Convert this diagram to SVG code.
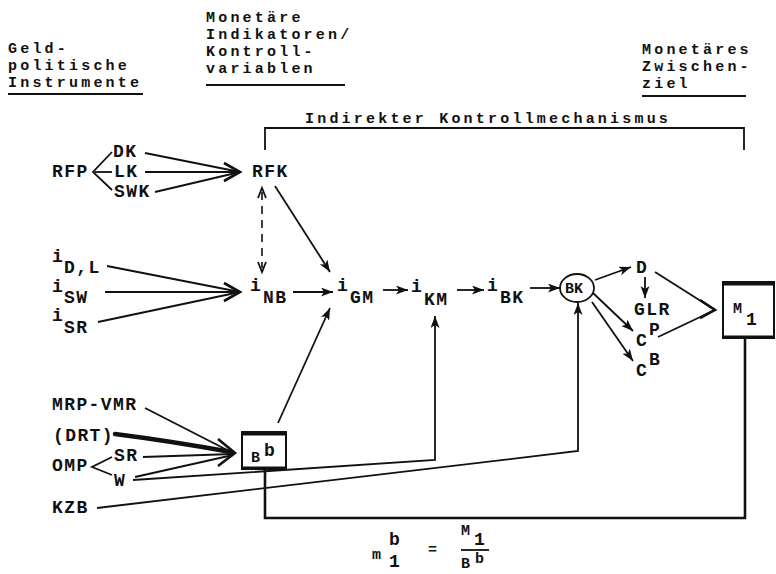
<svg xmlns="http://www.w3.org/2000/svg" width="776" height="574" viewBox="0 0 776 574">
<defs>
<style>
text{font-family:"Liberation Mono","DejaVu Sans Mono",monospace;font-size:18px;font-weight:bold;fill:#111;letter-spacing:1.4px}
.hdr{font-size:15px;letter-spacing:3.2px}
.sm{font-size:15px;letter-spacing:0}
.ln{stroke:#111;stroke-width:1.8;fill:none}
.thk{stroke:#111;stroke-width:2.6;fill:none}
.hd{stroke:#111;stroke-width:2.6;fill:none;stroke-linejoin:miter}
.ds{stroke:#111;stroke-width:1.6;fill:none;stroke-dasharray:8 6}
.box{stroke:#111;stroke-width:2;fill:#fff}
</style>
<marker id="ah" markerUnits="userSpaceOnUse" markerWidth="14" markerHeight="10" refX="12" refY="4.5" orient="auto">
<path d="M0,0 L12,4.5 L0,9 L3,4.5 z" fill="#111"/>
</marker>
</defs>
<rect width="776" height="574" fill="#fff"/>

<g id="headers">
<text class="hdr" x="8" y="53">Geld-</text>
<text class="hdr" x="8" y="70">politische</text>
<text class="hdr" x="8" y="87">Instrumente</text>
<line class="ln" x1="8" y1="94" x2="143" y2="94"/>
<text class="hdr" x="206" y="22">Monetäre</text>
<text class="hdr" x="206" y="39">Indikatoren/</text>
<text class="hdr" x="206" y="56">Kontroll-</text>
<text class="hdr" x="206" y="73">variablen</text>
<line class="ln" x1="206" y1="85" x2="345" y2="85"/>
<text class="hdr" x="642" y="54">Monetäres</text>
<text class="hdr" x="642" y="71">Zwischen-</text>
<text class="hdr" x="642" y="88">ziel</text>
<line class="ln" x1="642" y1="96" x2="746" y2="96"/>
<text class="hdr" x="305" y="123">Indirekter Kontrollmechanismus</text>
<polyline class="ln" points="265,150 265,128 744,128 744,150"/>
</g>

<g id="rfp"><text x="52" y="177">RFP</text></g>
<g id="dk"><text x="113" y="157">DK</text></g>
<g id="lk"><text x="114" y="177">LK</text></g>
<g id="swk"><text x="114" y="197">SWK</text></g>
<g id="rfk"><text x="252" y="177">RFK</text></g>
<g id="idl"><text x="52" y="262">i<tspan x="64" dy="11">D,L</tspan></text></g>
<g id="isw"><text x="52" y="292">i<tspan x="64" dy="11">SW</tspan></text></g>
<g id="isr"><text x="52" y="321">i<tspan x="64" dy="12">SR</tspan></text></g>
<g id="inb"><text x="250" y="291">i<tspan x="263" dy="12">NB</tspan></text></g>
<g id="igm"><text x="337" y="291">i<tspan x="350" dy="12">GM</tspan></text></g>
<g id="ikm"><text x="411" y="292">i<tspan x="424" dy="13">KM</tspan></text></g>
<g id="ibk"><text x="487" y="291">i<tspan x="500" dy="12">BK</tspan></text></g>
<g id="bk"><ellipse class="ln" cx="577" cy="288" rx="17" ry="14"/><text class="sm" x="565" y="293">BK</text></g>
<g id="d"><text x="636" y="273">D</text></g>
<g id="glr"><text x="634" y="315">GLR</text></g>
<g id="cp"><text x="636" y="346">C<tspan x="649" dy="-11">P</tspan></text></g>
<g id="cb"><text x="636" y="376">C<tspan x="649" dy="-11">B</tspan></text></g>
<g id="m1">
<rect class="box" x="723" y="282" width="51" height="56"/>
<line x1="722" y1="283.5" x2="775" y2="283.5" stroke="#111" stroke-width="4"/>
<line x1="722" y1="337" x2="775" y2="337" stroke="#111" stroke-width="3"/>
<text x="733" y="313"><tspan class="sm">M</tspan><tspan x="746" dy="12">1</tspan></text>
</g>
<g id="mrp"><text x="52" y="410">MRP-VMR</text></g>
<g id="drt"><text x="53" y="441">(DRT)</text></g>
<g id="omp"><text x="52" y="471">OMP</text></g>
<g id="sr"><text x="114" y="461">SR</text></g>
<g id="w"><text x="114" y="486">W</text></g>
<g id="kzb"><text x="52" y="513">KZB</text></g>
<g id="bb">
<rect class="box" x="242" y="432" width="44" height="37"/>
<line x1="241" y1="433.5" x2="287" y2="433.5" stroke="#111" stroke-width="4"/>
<line x1="241" y1="468" x2="287" y2="468" stroke="#111" stroke-width="3"/>
<text x="251" y="462"><tspan class="sm">B</tspan><tspan x="264" dy="-6">b</tspan></text>
</g>
<g id="formula">
<text x="372" y="559"><tspan class="sm">m</tspan><tspan x="389" y="545">b</tspan><tspan x="389" y="567">1</tspan><tspan class="sm" x="428" y="554">=</tspan><tspan class="sm" x="461" y="535">M</tspan><tspan x="474" y="545">1</tspan><tspan class="sm" x="461" y="568">B</tspan><tspan class="sm" x="475" y="563">b</tspan></text>
<line class="ln" x1="461" y1="550" x2="489" y2="550"/>
</g>

<g id="connectors">
<polyline class="ln" points="112,152 93,172 112,190"/>
<line class="ln" x1="95" y1="172" x2="112" y2="172"/>
<line class="ln" x1="145" y1="153" x2="240" y2="172"/>
<line class="ln" x1="145" y1="172" x2="240" y2="172"/>
<line class="ln" x1="155" y1="192" x2="240" y2="172"/>
<polyline class="hd" points="224,163 240,172 224,181"/>
<line class="ds" x1="262" y1="192" x2="262" y2="268"/>
<polyline class="ln" points="258,198 262,188 266,198"/>
<polyline class="ln" points="258,262 262,272 266,262"/>
<line class="ln" x1="275" y1="186" x2="330" y2="272" marker-end="url(#ah)"/>
<line class="ln" x1="107" y1="266" x2="240" y2="292"/>
<line class="ln" x1="105" y1="292" x2="240" y2="292"/>
<line class="ln" x1="98" y1="322" x2="240" y2="292"/>
<polyline class="hd" points="224,283 240,292 224,301"/>
<line class="ln" x1="293" y1="292" x2="333" y2="292" marker-end="url(#ah)"/>
<line class="ln" x1="278" y1="423" x2="330" y2="308" marker-end="url(#ah)"/>
<line class="ln" x1="383" y1="290" x2="408" y2="290" marker-end="url(#ah)"/>
<line class="ln" x1="457" y1="290" x2="484" y2="290" marker-end="url(#ah)"/>
<line class="ln" x1="530" y1="288" x2="560" y2="288" marker-end="url(#ah)"/>
<line class="ln" x1="595" y1="280" x2="631" y2="267" marker-end="url(#ah)"/>
<line class="ln" x1="645" y1="277" x2="645" y2="298" marker-end="url(#ah)"/>
<line class="ln" x1="593" y1="293" x2="633" y2="331" marker-end="url(#ah)"/>
<line class="ln" x1="592" y1="302" x2="633" y2="361" marker-end="url(#ah)"/>
<line class="ln" x1="655" y1="272" x2="715" y2="310"/>
<line class="ln" x1="658" y1="337" x2="715" y2="310"/>
<polyline class="hd" points="700,300 715,310 700,318"/>
<polyline class="ln" points="133,480 435,460 435,316" marker-end="url(#ah)"/>
<polyline class="ln" points="97,508 578,451 578,303" marker-end="url(#ah)"/>
<polyline class="thk" points="745,338 745,518 265,518 265,469"/>
<line class="ln" x1="145" y1="408" x2="233" y2="453"/>
<path d="M115,434 Q170,441 231,452" stroke="#111" stroke-width="4.5" fill="none" stroke-linecap="round"/>
<line class="ln" x1="143" y1="457" x2="233" y2="454"/>
<line class="ln" x1="135" y1="477" x2="233" y2="455"/>
<polyline class="hd" points="218,439 235,453 218,466"/>
<polyline class="ln" points="112,457 92,467 112,475"/>
</g>
</svg>
